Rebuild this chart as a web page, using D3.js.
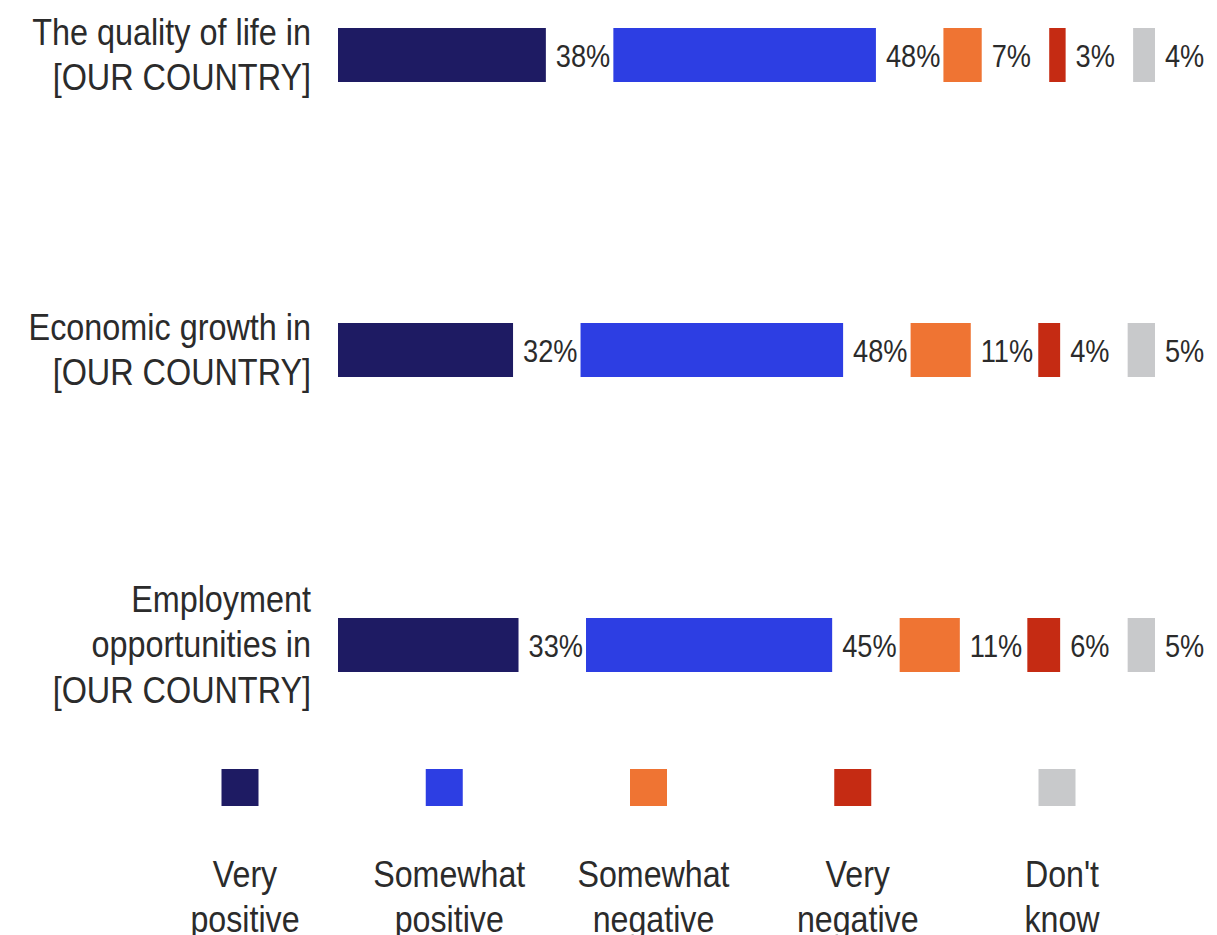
<!DOCTYPE html>
<html><head><meta charset="utf-8">
<script src="https://cdn.jsdelivr.net/npm/d3@7"></script>
<style>html,body{margin:0;padding:0;background:#fff;overflow:hidden}</style>
</head><body>
<svg id="chart" width="1217" height="935"></svg>
<script>
const categories = [
  ["The quality of life in", "[OUR COUNTRY]"],
  ["Economic growth in", "[OUR COUNTRY]"],
  ["Employment", "opportunities in", "[OUR COUNTRY]"]
];
const seriesNames = ["Very positive", "Somewhat positive", "Somewhat negative", "Very negative", "Don't know"];
const legendLines = [["Very","positive"],["Somewhat","positive"],["Somewhat","negative"],["Very","negative"],["Don't","know"]];
const veryPositive     = [38, 32, 33];
const somewhatPositive = [48, 48, 45];
const somewhatNegative = [7, 11, 11];
const veryNegative     = [3, 4, 6];
const dontKnow         = [4, 5, 5];
const colors = ["#1e1b63", "#2d3ee3", "#ef7433", "#c52b13", "#c8c9cb"];

const series = [veryPositive, somewhatPositive, somewhatNegative, veryNegative, dontKnow];
const svg = d3.select("#chart");
const textColor = "#2b2b2b";
const font = "'Liberation Sans', Arial, sans-serif";

const x0 = 338, gap = 67.5, barH = 54;
const x = d3.scaleLinear().domain([0, 100]).range([0, 547]);
const y = d3.scalePoint().domain(d3.range(categories.length)).range([55, 645]);

function cText(g, str, cx, baseline, size, anchor, sx) {
  g.append("text")
    .attr("transform", `translate(${cx},${baseline}) scale(${sx},1)`)
    .attr("text-anchor", anchor)
    .attr("font-family", font)
    .attr("font-size", size)
    .attr("fill", textColor)
    .text(str);
}

categories.forEach((lines, r) => {
  const cy = y(r);
  const g = svg.append("g");
  const lh = 45.5, fs = 37;
  lines.forEach((ln, i) => {
    const b = cy + fs * 0.36 + (i - (lines.length - 1) / 2) * lh - 1;
    cText(g, ln, 311, b, fs, "end", 0.875);
  });
  let cum = 0;
  series.forEach((s, i) => {
    const v = s[r];
    const xs = x0 + x(cum) + i * gap;
    const w = x(v);
    g.append("rect").attr("x", xs).attr("y", cy - barH / 2)
      .attr("width", w).attr("height", barH).attr("fill", colors[i]);
    cText(g, v + "%", xs + w + 10, cy + 32 * 0.36, 32, "start", 0.85);
    cum += v;
  });
});

const lx = d3.scalePoint().domain(d3.range(seriesNames.length)).range([240, 1057]);
const lg = svg.append("g");
seriesNames.forEach((n, i) => {
  const cx = lx(i);
  lg.append("rect").attr("x", cx - 18.5).attr("y", 769).attr("width", 37).attr("height", 37).attr("fill", colors[i]);
  legendLines[i].forEach((ln, j) => {
    cText(lg, ln, cx + 5, 887 + j * 45, 37, "middle", 0.87);
  });
});
</script>
</body></html>
